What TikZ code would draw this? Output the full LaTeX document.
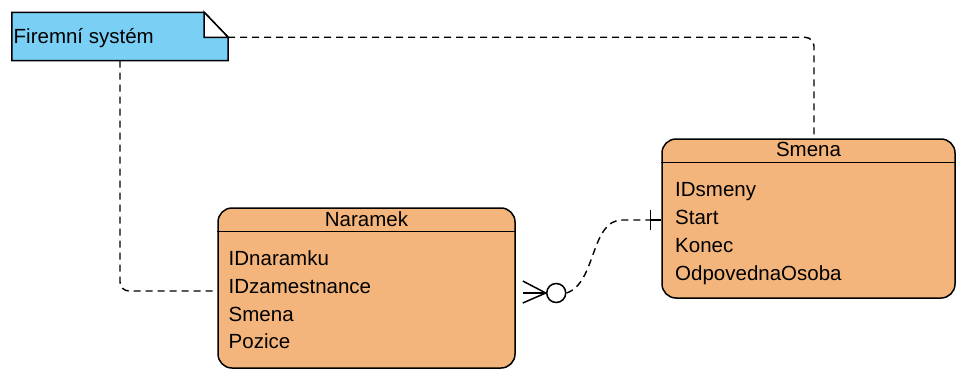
\documentclass[tikz,border=0pt]{standalone}
\usepackage{fontspec}
\setmainfont{Liberation Sans}
\usetikzlibrary{calc}
\definecolor{entityfill}{RGB}{243,181,123}
\definecolor{notefill}{RGB}{122,207,245}
\tikzset{
  entity/.style={draw=black, line width=1.5pt, fill=entityfill, rounded corners=14pt,
                 inner sep=0pt},
  attr/.style={anchor=base west, inner sep=0pt, font=\fontsize{20.5}{24}\selectfont},
  title/.style={anchor=base, inner sep=0pt, font=\fontsize{20.5}{24}\selectfont},
  link/.style={line width=1.4pt, dash pattern=on 7pt off 5pt},
  solidline/.style={line width=1.5pt, solid},
}
\begin{document}
\begin{tikzpicture}[x=1pt, y=-1pt]
  \useasboundingbox (0,0) rectangle (957,369);

  % note "Firemní systém"
  \node[minimum width=216pt, minimum height=48pt, inner sep=0pt] (note) at (120,36.5) {};
  \draw[line width=1.5pt, fill=notefill]
    (note.north west) -- ($(note.north east)+(-24,0)$) -- ($(note.north east)+(0,25)$)
    -- (note.south east) -- (note.south west) -- cycle;
  \draw[line width=1.5pt, fill=white]
    ($(note.north east)+(-24,0)$) -- ($(note.north east)+(-24,25)$)
    -- ($(note.north east)+(0,25)$) -- cycle;
  \node[attr] (notetext) at (13.5,43.5) {Firemní systém};

  % entity Naramek
  \node[entity, minimum width=297pt, minimum height=160pt] (naramek) at (366.5,288) {};
  \draw[line width=1.5pt] ($(naramek.north west)+(0,24)$) -- ($(naramek.north east)+(0,24)$);
  \node[title] (naramektitle) at (366.5,226.5) {Naramek};
  \node[attr] (n1) at (228.5,265.5) {IDnaramku};
  \node[attr] (n2) at (228.5,293.5) {IDzamestnance};
  \node[attr] (n3) at (228.5,321) {Smena};
  \node[attr] (n4) at (228.5,348.5) {Pozice};

  % entity Smena
  \node[entity, minimum width=293pt, minimum height=159pt] (smena) at (808.5,218.5) {};
  \draw[line width=1.5pt] ($(smena.north west)+(0,24)$) -- ($(smena.north east)+(0,24)$);
  \node[title] (smenatitle) at (808.5,156.5) {Smena};
  \node[attr] (s1) at (675,196.5) {IDsmeny};
  \node[attr] (s2) at (675,224.5) {Start};
  \node[attr] (s3) at (675,252.5) {Konec};
  \node[attr] (s4) at (675,280.5) {OdpovednaOsoba};

  % note links
  \coordinate (notefold) at ($(note.north east)+(0,25)$);
  \coordinate (smenatop) at ($(smena.north)+(5.5,0)$);
  \coordinate (naramekleft) at ($(naramek.west)+(0,3)$);
  \draw[link, rounded corners=9pt] (notefold) -| (smenatop);
  \draw[link, rounded corners=9pt] (note.south) |- (naramekleft);

  % relationship Naramek (many, optional) -- Smena (one)
  \coordinate (nr) at ($(naramek.east)+(0,5)$);
  \coordinate (sl) at ($(smena.west)+(0,1.5)$);
  \coordinate (foot) at ($(nr)+(30,0)$);
  \node[draw, line width=1.5pt, circle, minimum size=19pt, inner sep=0pt, fill=white]
    (ring) at ($(nr)+(40.5,0)$) {};
  \draw[solidline] ($(nr)+(7,-12)$) -- (foot) -- ($(nr)+(7,10)$);
  \draw[solidline] ($(nr)+(7,0)$) -- (ring.west);
  \coordinate (bar) at ($(sl)+(-11,0)$);
  \draw[link] (ring.east) .. controls ($(ring.east)+(30,-10)$) and ($(bar)+(-60,0)$) .. ($(bar)+(-28,0)$) -- (bar);
  \draw[solidline] (bar) -- (sl);
  \draw[solidline] ($(bar)+(0,-10)$) -- ($(bar)+(0,10)$);
\end{tikzpicture}
\end{document}
